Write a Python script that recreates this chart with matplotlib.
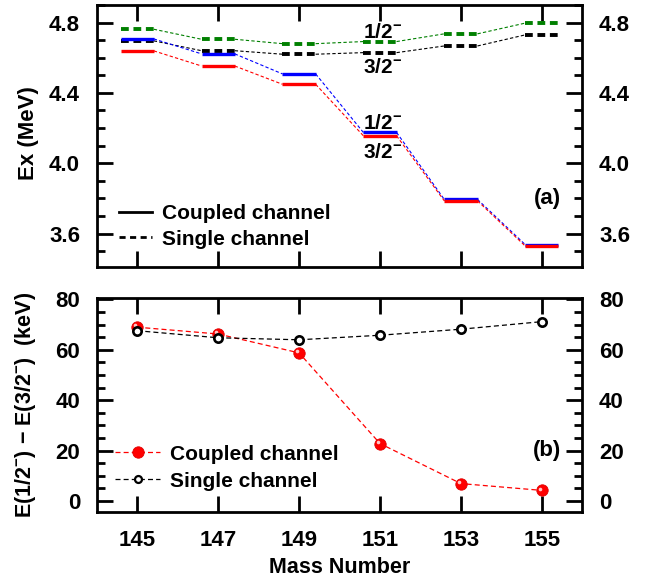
import matplotlib
matplotlib.use('Agg')
import matplotlib.pyplot as plt
from matplotlib.ticker import MultipleLocator, FixedLocator
from matplotlib.lines import Line2D
import matplotlib.transforms as mtransforms

plt.rcParams['font.family'] = ['Liberation Sans', 'DejaVu Sans']
plt.rcParams['font.weight'] = 'bold'
plt.rcParams['axes.labelweight'] = 'bold'
plt.rcParams['mathtext.fontset'] = 'custom'
plt.rcParams['mathtext.rm'] = 'Liberation Sans:bold'
plt.rcParams['mathtext.it'] = 'Liberation Sans:bold'
plt.rcParams['mathtext.bf'] = 'Liberation Sans:bold'

# ---------------- data ----------------
mass = [145, 147, 149, 151, 153, 155]
mass_ticks = [145, 147, 149, 151, 153, 155]

# excitation energies (MeV)
cc_half = [4.707, 4.622, 4.508, 4.175, 3.794, 3.537]    # coupled channel 1/2-
cc_three = [4.639, 4.553, 4.449, 4.156, 3.786, 3.529]   # coupled channel 3/2-
sc_half = [4.762, 4.705, 4.680, 4.692, 4.736, 4.797]    # single channel 1/2-
sc_three = [4.696, 4.640, 4.620, 4.629, 4.667, 4.730]   # single channel 3/2-

# splitting E(1/2-) - E(3/2-) (keV)
split_cc = [69.0, 66.3, 58.8, 22.8, 6.9, 4.2]
split_sc = [67.6, 64.8, 64.0, 65.8, 68.2, 71.2]

legend_labels = ['Coupled channel', 'Single channel']

# ---------------- figure ----------------
fig = plt.figure(figsize=(6.54, 5.79), dpi=100)
ax1 = fig.add_axes([0.1479, 0.5389, 0.7425, 0.4525])
ax2 = fig.add_axes([0.1479, 0.1152, 0.7425, 0.3706])

HW = 0.41
LEVEL_DASH = (0, (2.0, 1.2))


def levels(ax, xs, ys, color, ls, lw, z):
    for x, y in zip(xs, ys):
        ax.plot([x - HW, x + HW], [y, y], color=color, ls=ls, lw=lw,
                solid_capstyle='butt', dash_capstyle='butt', zorder=z)
    for i in range(len(xs) - 1):
        ax.plot([xs[i] + HW, xs[i + 1] - HW], [ys[i], ys[i + 1]], color=color,
                lw=0.8, ls=(0, (3, 2)), zorder=z - 1)


levels(ax1, mass, sc_half, '#008000', LEVEL_DASH, 2.8, 4)
levels(ax1, mass, sc_three, 'black', LEVEL_DASH, 2.8, 4)
levels(ax1, mass, cc_half, '#0000ff', '-', 2.4, 6)
levels(ax1, mass, cc_three, '#ff0000', '-', 2.4, 8)

lbl_kw = dict(fontsize=15, ha='left', va='center')
ax1.text(150.58, 4.741, r'$\mathbf{1/2^{-}}$', **lbl_kw)
ax1.text(150.58, 4.542, r'$\mathbf{3/2^{-}}$', **lbl_kw)
ax1.text(150.58, 4.228, r'$\mathbf{1/2^{-}}$', **lbl_kw)
ax1.text(150.58, 4.063, r'$\mathbf{3/2^{-}}$', **lbl_kw)
ax1.text(155.47, 3.80, '(a)', fontsize=16, ha='right', va='center')

h1 = [Line2D([], [], color='black', lw=2.0, ls='-'),
      Line2D([], [], color='black', lw=2.0, ls=(0, (2.2, 1.6)))]
ax1.legend(h1, legend_labels, loc='upper left', bbox_to_anchor=(0.046, 0.24),
           frameon=False, fontsize=15, handlelength=1.6, handletextpad=0.45,
           labelspacing=0.32, borderpad=0, borderaxespad=0)

ax1.set_xlim(144, 156)
ax1.set_ylim(3.41, 4.9)
ax1.yaxis.set_major_locator(MultipleLocator(0.4))
ax1.yaxis.set_minor_locator(MultipleLocator(0.1))
ax1.set_ylabel('Ex (MeV)', fontsize=16)
ax1.yaxis.set_label_coords(-0.118, 0.51)

# bottom panel
ax2.plot(mass, split_cc, color='#ff0000', lw=0.9, ls=(0, (4, 2.5)), zorder=3)
ax2.plot(mass, split_cc, ls='none', marker='o', ms=8.2, mfc='#ff0000',
         mec='#e00000', mew=0.6, zorder=4)
hl = mtransforms.offset_copy(ax2.transData, fig=fig, x=-1.3, y=1.3, units='points')
ax2.plot(mass, split_cc, ls='none', marker='o', ms=2.6, mfc='#ffc8c8',
         mec='none', transform=hl, zorder=5)
ax2.plot(mass, split_sc, color='black', lw=0.9, ls=(0, (4, 2.5)), zorder=6)
ax2.plot(mass, split_sc, ls='none', marker='o', ms=6, mfc='white',
         mec='black', mew=1.9, zorder=7)

h2 = [Line2D([], [], color='#ff0000', lw=0.9, ls=(0, (4, 2.5)), marker='o',
             ms=8.2, mfc='#ff0000', mec='#e00000', mew=0.6),
      Line2D([], [], color='black', lw=0.9, ls=(0, (4, 2.5)), marker='o',
             ms=5, mfc='white', mec='black', mew=1.6)]
ax2.legend(h2, legend_labels, loc='upper left', bbox_to_anchor=(0.038, 0.315),
           frameon=False, fontsize=15, handlelength=2.16, handletextpad=0.48,
           labelspacing=0.38, borderpad=0, borderaxespad=0)
ax2.text(155.47, 20.2, '(b)', fontsize=16, ha='right', va='center')

ax2.set_xlim(144, 156)
ax2.set_ylim(-4.5, 80.7)
ax2.yaxis.set_major_locator(MultipleLocator(20))
ax2.yaxis.set_minor_locator(MultipleLocator(5))
ax2.set_ylabel(r'E(1/2$^{-}$) $-$ E(3/2$^{-}$)  (keV)', fontsize=15.5)
ax2.yaxis.set_label_coords(-0.12, 0.5)
ax2.set_xlabel('Mass Number', fontsize=15.5, labelpad=4)

for ax in (ax1, ax2):
    ax.xaxis.set_major_locator(FixedLocator(mass_ticks))
    ax.tick_params(which='both', direction='in', top=True, right=True,
                   labelright=True, width=2)
    ax.tick_params(which='major', length=11.5, labelsize=16)
    ax.tick_params(which='minor', length=6)
    ax.tick_params(axis='y', pad=12)
    ax.tick_params(axis='x', pad=13)
    for s in ax.spines.values():
        s.set_linewidth(2)

ax1.tick_params(axis='x', labelbottom=False)

fig.savefig('out.png', dpi=100)
